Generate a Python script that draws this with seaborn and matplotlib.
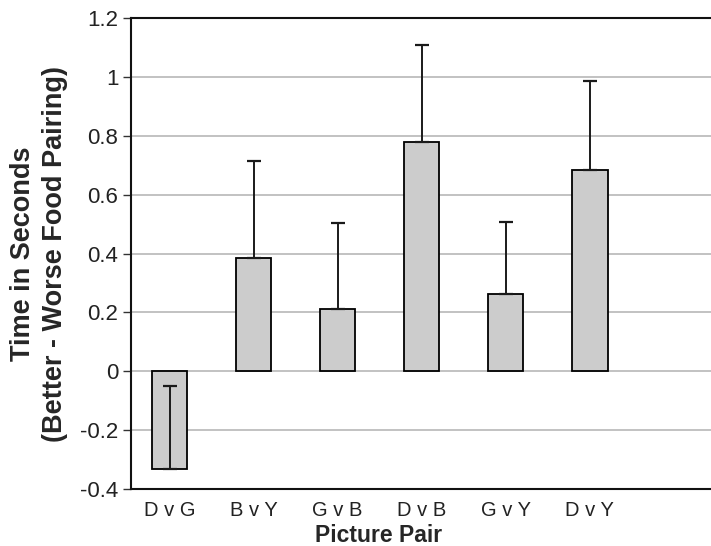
import numpy as np
import pandas as pd
import seaborn as sns
import matplotlib.pyplot as plt

# values
pairs = ["D v G", "B v Y", "G v B", "D v B", "G v Y", "D v Y"]
mean_diff = [-0.333, 0.385, 0.211, 0.778, 0.264, 0.685]
err_up = [0.282, 0.328, 0.291, 0.329, 0.242, 0.301]
yticks = [-0.4, -0.2, 0, 0.2, 0.4, 0.6, 0.8, 1, 1.2]

df = pd.DataFrame({"pair": pairs, "diff": mean_diff, "err": err_up})

sns.set_style("white")
plt.rcParams["font.family"] = ["Liberation Sans", "DejaVu Sans"]

fig = plt.figure(figsize=(7.11, 5.46), dpi=100)
ax = fig.add_axes([131 / 711, 57 / 546, 580 / 711, 471 / 546])

sns.barplot(data=df, x="pair", y="diff", order=pairs, color="#cccccc",
            edgecolor="black", linewidth=1.3, width=0.42, saturation=1,
            errorbar=None, ax=ax, zorder=3)

# one-sided (upper) error bars
xpos = np.arange(len(pairs))
ax.errorbar(xpos, df["diff"], yerr=[np.zeros(len(pairs)), df["err"]],
            fmt="none", ecolor="#1a1a1a", elinewidth=1.4, capsize=5,
            capthick=1.6, zorder=4)

ax.set_ylim(-0.4, 1.2)
ax.set_xlim(-0.458, 6.44)
ax.set_yticks(yticks)
ax.set_yticklabels(["-0.4", "-0.2", "0", "0.2", "0.4", "0.6", "0.8", "1", "1.2"])
ax.yaxis.grid(True, color="#bdbdbd", linewidth=1.3, zorder=0)
ax.set_axisbelow(True)

ax.tick_params(axis="y", length=6, width=1, color="#333333", labelsize=16,
               labelcolor="#222222", pad=3, left=True)
ax.tick_params(axis="x", length=0, labelsize=14.5, labelcolor="#222222", pad=9)

for side in ["left", "bottom", "top"]:
    ax.spines[side].set_visible(True)
    ax.spines[side].set_color("#111111")
    ax.spines[side].set_linewidth(1.5)
ax.spines["right"].set_visible(False)

ax.set_ylabel("Time in Seconds\n(Better - Worse Food Pairing)", fontsize=19.5,
              fontweight="bold", linespacing=1.3, labelpad=9)
ax.set_xlabel("Picture Pair", fontsize=16.5, fontweight="bold")
ax.xaxis.set_label_coords(0.426, -0.075)

fig.savefig("out.png", dpi=100)
